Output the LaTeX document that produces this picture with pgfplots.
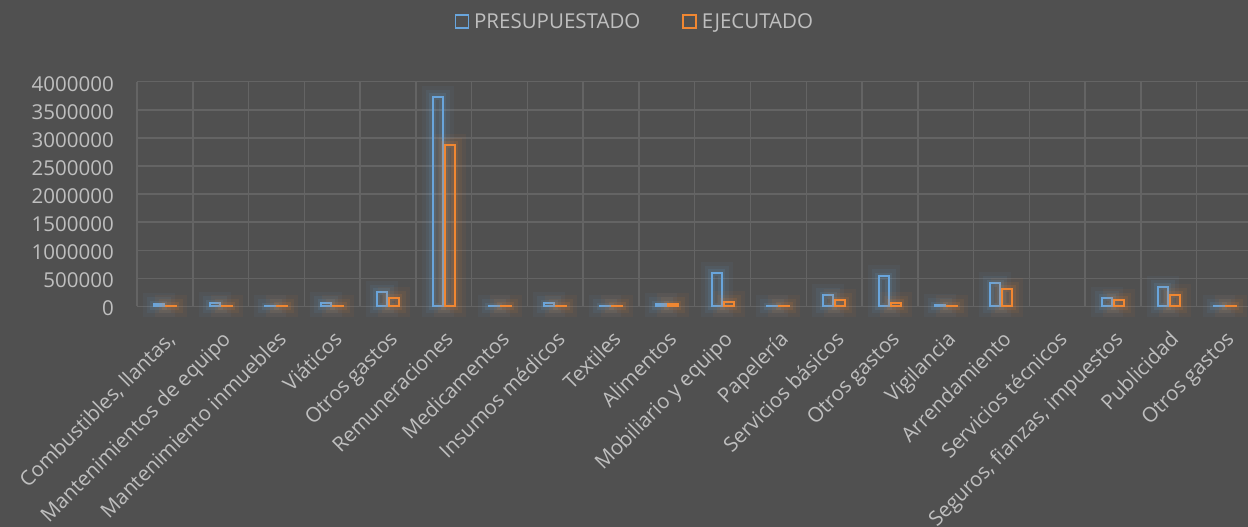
\documentclass[border=0pt]{standalone}
\usepackage{fontspec}
\setmainfont{Open Sans}
\usepackage{pgfplots}
\usepackage{pgfplotstable}
\pgfplotsset{compat=1.18}
\definecolor{bg}{RGB}{80,80,80}
\definecolor{gridc}{RGB}{100,100,100}
\definecolor{txt}{RGB}{191,191,191}
\definecolor{pblue}{RGB}{105,165,220}
\definecolor{porange}{RGB}{240,135,50}
\pgfplotstableread{
x pres ejec
0 40000 15000
1 57000 15000
2 8000 12000
3 68000 15000
4 259000 152000
5 3736000 2879000
6 8000 12000
7 57000 12000
8 8000 12000
9 39000 39000
10 598000 86000
11 8000 12000
12 200000 111000
13 539000 68000
14 21000 12000
15 414000 318000
17 157000 116000
18 354000 211000
19 15000 15000
}\datatable
\begin{document}
\begin{tikzpicture}
\fill[bg] (0,0) rectangle (1248pt,527pt);
\begin{axis}[
  at={(137pt,220.5pt)}, anchor=south west,
  width=1111pt, height=224.8pt, scale only axis,
  xmin=-0.5, xmax=19.42, ymin=0, ymax=4000000,
  enlargelimits=false, clip=false,
  ybar, bar width=10pt,
  xtick={0,...,19},
  xticklabels={{Combustibles, llantas,},{Mantenimientos de equipo},{Mantenimiento inmuebles},{Viáticos},{Otros gastos},{Remuneraciones},{Medicamentos},{Insumos médicos},{Textiles},{Alimentos},{Mobiliario y equipo},{Papelería},{Servicios básicos},{Otros gastos},{Vigilancia},{Arrendamiento},{Servicios técnicos},{Seguros, fianzas, impuestos},{Publicidad},{Otros gastos}},
  minor xtick={-0.5,0.5,...,19.5},
  xminorgrids, ymajorgrids,
  ytick={0,500000,...,4000000},
  grid style={draw=gridc, line width=1.5pt},
  minor grid style={draw=gridc, line width=1.5pt},
  axis line style={draw=none},
  major tick length=0pt, minor tick length=0pt,
  tick style={draw=none},
  scaled y ticks=false,
  /pgf/number format/assume math mode=true,
  y tick label style={/pgf/number format/fixed, /pgf/number format/1000 sep={}, anchor=east, inner sep=0pt, xshift=-23pt, yshift=-2pt},
  tick label style={font=\fontsize{20.5}{24}\selectfont, text=txt},
  x tick label style={xshift=0pt, yshift=-23pt, rotate=45, anchor=north east, inner sep=0pt},
  legend style={at={(0.4495,1.267)}, anchor=center, draw=none, fill=none, text=txt,
    font=\fontsize{20.5}{24}\selectfont, legend columns=2,
    nodes={inner xsep=5pt},
    /tikz/every even column/.append style={column sep=37pt}},
]
\addlegendimage{legend image code/.code={\draw[draw=pblue, line width=1.5pt] (0pt,-6.5pt) rectangle (13pt,6.5pt);}}
\addlegendentry{PRESUPUESTADO}
\addlegendimage{legend image code/.code={\draw[draw=porange, line width=1.5pt] (0pt,-6.5pt) rectangle (13pt,6.5pt);}}
\addlegendentry{EJECUTADO}
\addplot[forget plot, bar shift=-6pt, draw=pblue, fill=none, line width=2pt,
  preaction={draw=pblue, draw opacity=0.05, line width=22pt},
  preaction={draw=pblue, draw opacity=0.08, line width=14pt},
  preaction={draw=pblue, draw opacity=0.12, line width=7pt}]
  table[x=x, y=pres] {\datatable};
\addplot[forget plot, bar shift=6pt, draw=porange, fill=none, line width=2pt,
  preaction={draw=porange, draw opacity=0.05, line width=22pt},
  preaction={draw=porange, draw opacity=0.08, line width=14pt},
  preaction={draw=porange, draw opacity=0.12, line width=7pt}]
  table[x=x, y=ejec] {\datatable};
\end{axis}
\pgfresetboundingbox
\useasboundingbox (0,0) rectangle (1248pt,527pt);
\end{tikzpicture}
\end{document}
